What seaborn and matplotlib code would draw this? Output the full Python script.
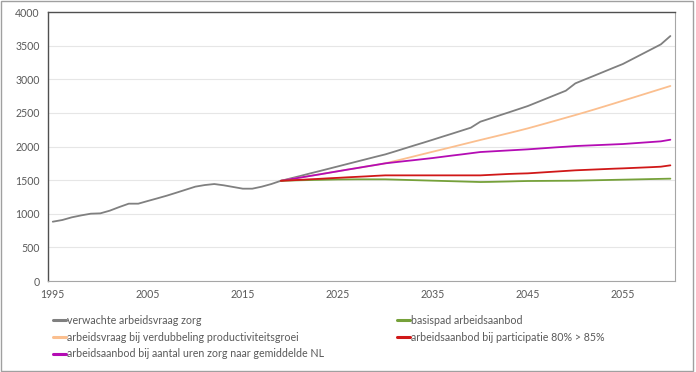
import pandas as pd
import matplotlib
matplotlib.use("Agg")
import matplotlib.pyplot as plt
import seaborn as sns

# values (x 1000 persons)
years_hist = list(range(1995, 2020))
vraag_hist = [882, 907, 947, 976, 1001, 1006, 1046, 1100, 1150, 1150,
              1190, 1229, 1269, 1313, 1358, 1403, 1427, 1442, 1423, 1398,
              1373, 1373, 1403, 1442, 1490]

years_proj = list(range(2019, 2061))
vraag_proj = [1490, 1525, 1560, 1597, 1632, 1668, 1704, 1740, 1776, 1812,
              1848, 1883, 1926, 1970, 2014, 2057, 2101, 2146, 2190, 2235,
              2280, 2369, 2415, 2462, 2508, 2555, 2602, 2659, 2716, 2773,
              2830, 2939, 2997, 3054, 3112, 3170, 3227, 3300, 3373, 3446,
              3519, 3643]
productiviteit = [1490, 1514, 1537, 1561, 1584, 1608, 1632, 1656, 1679, 1703,
                  1726, 1750, 1784, 1818, 1853, 1888, 1923, 1957, 1992, 2027,
                  2062, 2097, 2131, 2165, 2199, 2234, 2270, 2309, 2348, 2388,
                  2428, 2468, 2509, 2551, 2594, 2637, 2681, 2724, 2768, 2812,
                  2856, 2900]
basispad = [1490, 1494, 1498, 1501, 1504, 1507, 1510, 1511, 1512, 1512,
            1512, 1512, 1508, 1504, 1500, 1496, 1492, 1488, 1484, 1480,
            1476, 1472, 1474, 1477, 1480, 1484, 1487, 1488, 1489, 1490,
            1491, 1492, 1495, 1498, 1501, 1504, 1507, 1510, 1513, 1516,
            1519, 1522]
participatie = [1490, 1497, 1504, 1512, 1519, 1527, 1534, 1542, 1549, 1556,
                1564, 1571, 1571, 1571, 1571, 1571, 1571, 1571, 1571, 1571,
                1571, 1571, 1578, 1585, 1592, 1597, 1601, 1610, 1619, 1628,
                1637, 1646, 1652, 1658, 1664, 1670, 1675, 1681, 1687, 1693,
                1700, 1720]
uren_nl = [1490, 1514, 1537, 1561, 1584, 1608, 1632, 1656, 1679, 1703,
           1726, 1750, 1766, 1782, 1797, 1813, 1829, 1847, 1865, 1882,
           1900, 1918, 1926, 1934, 1942, 1950, 1958, 1968, 1978, 1988,
           1997, 2007, 2013, 2019, 2025, 2031, 2037, 2047, 2057, 2067,
           2077, 2101]

labels = ["verwachte arbeidsvraag zorg",
          "arbeidsvraag bij verdubbeling productiviteitsgroei",
          "arbeidsaanbod bij aantal uren zorg naar gemiddelde NL",
          "basispad arbeidsaanbod",
          "arbeidsaanbod bij participatie 80% > 85%"]
colors = ["#808080", "#fbbf8f", "#b40cb4", "#76a13a", "#d01818"]

series = [
    (years_hist + years_proj[1:], vraag_hist + vraag_proj[1:]),
    (years_proj, productiviteit),
    (years_proj, uren_nl),
    (years_proj, basispad),
    (years_proj, participatie),
]
frames = []
for lab, (yrs, vals) in zip(labels, series):
    frames.append(pd.DataFrame({"jaar": yrs, "waarde": vals, "reeks": lab}))
df = pd.concat(frames, ignore_index=True)

sns.set_style("white")
plt.rcParams["font.family"] = ["Lato", "DejaVu Sans"]

fig = plt.figure(figsize=(6.96, 3.72), dpi=100)
ax = fig.add_axes([0.069, 0.2446, 0.901, 0.7231])

sns.lineplot(data=df, x="jaar", y="waarde", hue="reeks", hue_order=labels,
             palette=dict(zip(labels, colors)), linewidth=1.3, ax=ax, legend=True)

ax.set_xlim(1994.5, 2060.5)
ax.set_ylim(0, 4000)
ax.set_xticks(range(1995, 2061, 10))
ax.set_yticks(range(0, 4001, 500))
ax.tick_params(axis="both", length=0, labelsize=7.6, colors="#595959", pad=6)
ax.set_xlabel("")
ax.set_ylabel("")
ax.grid(axis="y", color="#e6e6e6", linewidth=0.8)
ax.set_axisbelow(True)
for side in ["top", "left"]:
    ax.spines[side].set_color("#505050")
    ax.spines[side].set_linewidth(1.0)
for side in ["right", "bottom"]:
    ax.spines[side].set_color("#a6a6a6")
    ax.spines[side].set_linewidth(0.8)

handles, labs = ax.get_legend_handles_labels()
ax.get_legend().remove()
leg = fig.legend(handles, labs, ncol=2, loc="upper left",
                 bbox_to_anchor=(0.062, 0.18), frameon=False, fontsize=7.7,
                 handlelength=1.2, handletextpad=0.1, columnspacing=6.9,
                 labelspacing=0.55, labelcolor="#595959")
for line in leg.get_lines():
    line.set_linewidth(2.2)

# outer frame of the chart area
fig.patches.append(plt.Rectangle((0.002, 0.003), 0.994, 0.993, transform=fig.transFigure,
                                 fill=False, edgecolor="#a0a0a0", linewidth=1.0))

fig.savefig("out.png", dpi=100)
